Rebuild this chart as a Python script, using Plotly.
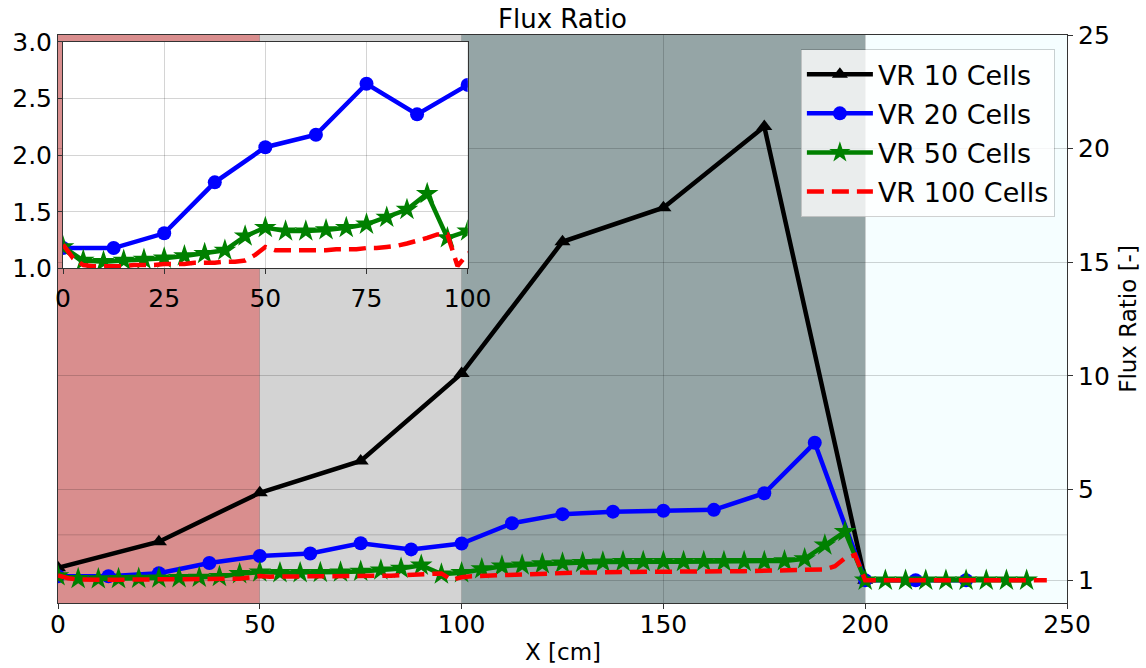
import plotly.graph_objects as go

# ---------------- data ----------------
x_vr10 = [0, 25, 50, 75, 100, 125, 150, 175, 200]
y_vr10 = [1.55, 2.7, 4.85, 6.25, 10.1, 15.9, 17.4, 20.97, 1.0]

x_vr20 = [0, 12.5, 25, 37.5, 50, 62.5, 75, 87.5, 100, 112.5, 125, 137.5,
          150, 162.5, 175, 187.5, 200, 212.5, 225]
y_vr20 = [1.18, 1.18, 1.31, 1.76, 2.07, 2.18, 2.63, 2.36, 2.62, 3.51, 3.91, 4.02,
          4.06, 4.1, 4.83, 7.05, 1.0, 1.0, 1.0]

x_vr50 = [0, 5, 10, 15, 20, 25, 30, 35, 40, 45, 50, 55, 60, 65, 70, 75, 80, 85,
          90, 95, 100, 105, 110, 115, 120, 125, 130, 135, 140, 145, 150, 155,
          160, 165, 170, 175, 180, 185, 190, 195, 200, 205, 210, 215, 220, 225,
          230, 235, 240]
y_vr50 = [1.19, 1.07, 1.06, 1.07, 1.08, 1.09, 1.11, 1.13, 1.16, 1.285, 1.36,
          1.33, 1.33, 1.34, 1.36, 1.39, 1.45, 1.52, 1.66, 1.27, 1.33, 1.5, 1.62,
          1.67, 1.72, 1.75, 1.78, 1.8, 1.82, 1.82, 1.82, 1.82, 1.82, 1.82, 1.82,
          1.82, 1.85, 1.94, 2.55, 3.14, 1.0, 1.0, 1.0, 1.0, 1.0, 1.0, 1.0, 1.0,
          1.0]

x_vr100 = [0, 2.5, 5, 7.5, 10, 12.5, 15, 17.5, 20, 22.5, 25, 27.5, 30, 32.5, 35,
           37.5, 40, 42.5, 45, 47.5, 50, 52.5, 55, 57.5, 60, 62.5, 65, 67.5, 70,
           72.5, 75, 77.5, 80, 82.5, 85, 87.5, 90, 92.5, 95, 97.5, 100, 102.5,
           105, 107.5, 110, 112.5, 115, 117.5, 120, 122.5, 125, 127.5, 130,
           132.5, 135, 137.5, 140, 142.5, 145, 147.5, 150, 152.5, 155, 157.5,
           160, 162.5, 165, 167.5, 170, 172.5, 175, 177.5, 180, 182.5, 185,
           187.5, 190, 192.5, 195, 197.5, 200, 202.5, 205, 207.5, 210, 212.5,
           215, 217.5, 220, 222.5, 225, 227.5, 230, 232.5, 235, 237.5, 240,
           242.5, 245]
y_vr100 = [1.21, 1.09, 1.03, 1.02, 1.02, 1.02, 1.02, 1.03, 1.03, 1.03, 1.04,
           1.04, 1.04, 1.05, 1.05, 1.05, 1.06, 1.06, 1.07, 1.12, 1.19, 1.16,
           1.16, 1.16, 1.16, 1.16, 1.16, 1.17, 1.17, 1.17, 1.18, 1.18, 1.19,
           1.20, 1.22, 1.24, 1.27, 1.30, 1.30, 1.02, 1.13, 1.18, 1.20, 1.22,
           1.24, 1.26, 1.28, 1.29, 1.30, 1.31, 1.32, 1.33, 1.34, 1.35, 1.35,
           1.36, 1.36, 1.37, 1.37, 1.38, 1.38, 1.38, 1.39, 1.39, 1.39, 1.40,
           1.40, 1.40, 1.40, 1.41, 1.41, 1.41, 1.41, 1.41, 1.42, 1.44, 1.48,
           1.62, 1.98, 2.12, 1.0, 1.0, 1.0, 1.0, 1.0, 1.0, 1.0, 1.0, 1.0, 1.0,
           1.0, 1.0, 1.0, 1.0, 1.0, 1.0, 1.0, 1.0, 1.0]

series_names = ["VR 10 Cells", "VR 20 Cells", "VR 50 Cells", "VR 100 Cells"]

# region bands (x start, x end, colour)
band_edges = [0, 50, 100, 200, 250]
band_colors = ["rgb(217,142,142)", "rgb(211,211,211)", "rgb(149,165,166)",
               "rgb(245,254,255)"]

main_xticks = [0, 50, 100, 150, 200, 250]
main_yticks = [1, 5, 10, 15, 20, 25]
extra_grid_y = [3]
inset_xticks = [0, 25, 50, 75, 100]
inset_yticks = [1.0, 1.5, 2.0, 2.5, 3.0]

FONT = "DejaVu Sans"
GRID = "rgba(0,0,0,0.17)"
LW = 4.5

fig = go.Figure()

styles = [
    dict(color="black", symbol="triangle-up", size=14, dash="solid"),
    dict(color="blue", symbol="circle", size=14, dash="solid"),
    dict(color="green", symbol="star", size=17, dash="solid"),
    dict(color="red", symbol=None, size=0, dash="17px,8px"),
]
data = [(x_vr10, y_vr10), (x_vr20, y_vr20), (x_vr50, y_vr50), (x_vr100, y_vr100)]

for name, (xs, ys), st in zip(series_names, data, styles):
    mode = "lines+markers" if st["symbol"] else "lines"
    kw = dict(marker=dict(symbol=st["symbol"], size=st["size"], color=st["color"])) if st["symbol"] else {}
    fig.add_trace(go.Scatter(
        x=xs, y=ys, name=name, mode=mode, legendgroup=name,
        line=dict(color=st["color"], width=LW, dash=st["dash"]),
        xaxis="x", yaxis="y", **kw))

# inset (VR 20, 50, 100)
for name, (xs, ys), st in list(zip(series_names, data, styles))[1:]:
    mode = "lines+markers" if st["symbol"] else "lines"
    kw = dict(marker=dict(symbol=st["symbol"], size=st["size"], color=st["color"])) if st["symbol"] else {}
    fig.add_trace(go.Scatter(
        x=xs, y=ys, name=name, mode=mode, showlegend=False,
        line=dict(color=st["color"], width=LW, dash=st["dash"]),
        xaxis="x2", yaxis="y2", **kw))

shapes = []
for i, c in enumerate(band_colors):
    shapes.append(dict(type="rect", xref="x", yref="paper",
                       x0=band_edges[i], x1=band_edges[i + 1], y0=0, y1=1,
                       fillcolor=c, line=dict(width=0), layer="below"))
for gy in extra_grid_y:
    shapes.append(dict(type="line", xref="paper", yref="y", x0=0, x1=1,
                       y0=gy, y1=gy, line=dict(color=GRID, width=1),
                       layer="below"))
# white background of inset
shapes.append(dict(type="rect", xref="x2", yref="y2",
                   x0=inset_xticks[0], x1=inset_xticks[-1],
                   y0=inset_yticks[0], y1=inset_yticks[-1],
                   fillcolor="white", line=dict(width=0), layer="below"))

axis_common = dict(showline=True, linecolor="#333", linewidth=1, mirror=True,
                   ticks="outside", ticklen=5, tickcolor="#333",
                   showgrid=True, gridcolor=GRID, gridwidth=1, zeroline=False,
                   tickfont=dict(family=FONT, size=25, color="black"))

fig.update_layout(
    width=1146, height=668,
    margin=dict(l=55, r=79, t=35, b=65),
    plot_bgcolor="white", paper_bgcolor="white",
    font=dict(family=FONT, color="black"),
    title=dict(text="Flux Ratio", x=0.5, xref="paper", xanchor="center",
               y=1 - 19 / 668, yanchor="middle",
               font=dict(family=FONT, size=26, color="black")),
    xaxis=dict(range=[0, 250], tickvals=main_xticks, ticklabelstandoff=-6,
               **axis_common),
    yaxis=dict(range=[0, 25], tickvals=main_yticks, side="right", **axis_common),
    xaxis2=dict(domain=[0.005, 0.406], anchor="y2", range=[0, 100],
                tickvals=inset_xticks, ticklabelstandoff=3, **axis_common),
    yaxis2=dict(domain=[0.589, 0.988], anchor="x2", range=[1, 3],
                tickvals=inset_yticks, tickformat=".1f", **axis_common),
    shapes=shapes,
    showlegend=True,
    legend=dict(x=0.988, xanchor="right", y=0.975, yanchor="top",
                bgcolor="rgba(255,255,255,0.8)", bordercolor="rgba(0,0,0,0.18)",
                borderwidth=1, font=dict(family=FONT, size=27, color="black"),
                itemwidth=66, traceorder="grouped", tracegroupgap=1),
    annotations=[
        dict(text="X [cm]", xref="paper", yref="paper", x=0.5, y=-0.0863,
             xanchor="center", yanchor="middle", showarrow=False,
             font=dict(family=FONT, size=23, color="black")),
        dict(text="Flux Ratio [-]", xref="paper", yref="paper", x=1.0603,
             y=0.5, xanchor="center", yanchor="middle", textangle=-90,
             showarrow=False, font=dict(family=FONT, size=23, color="black")),
    ],
)

fig.write_html("out.html")
